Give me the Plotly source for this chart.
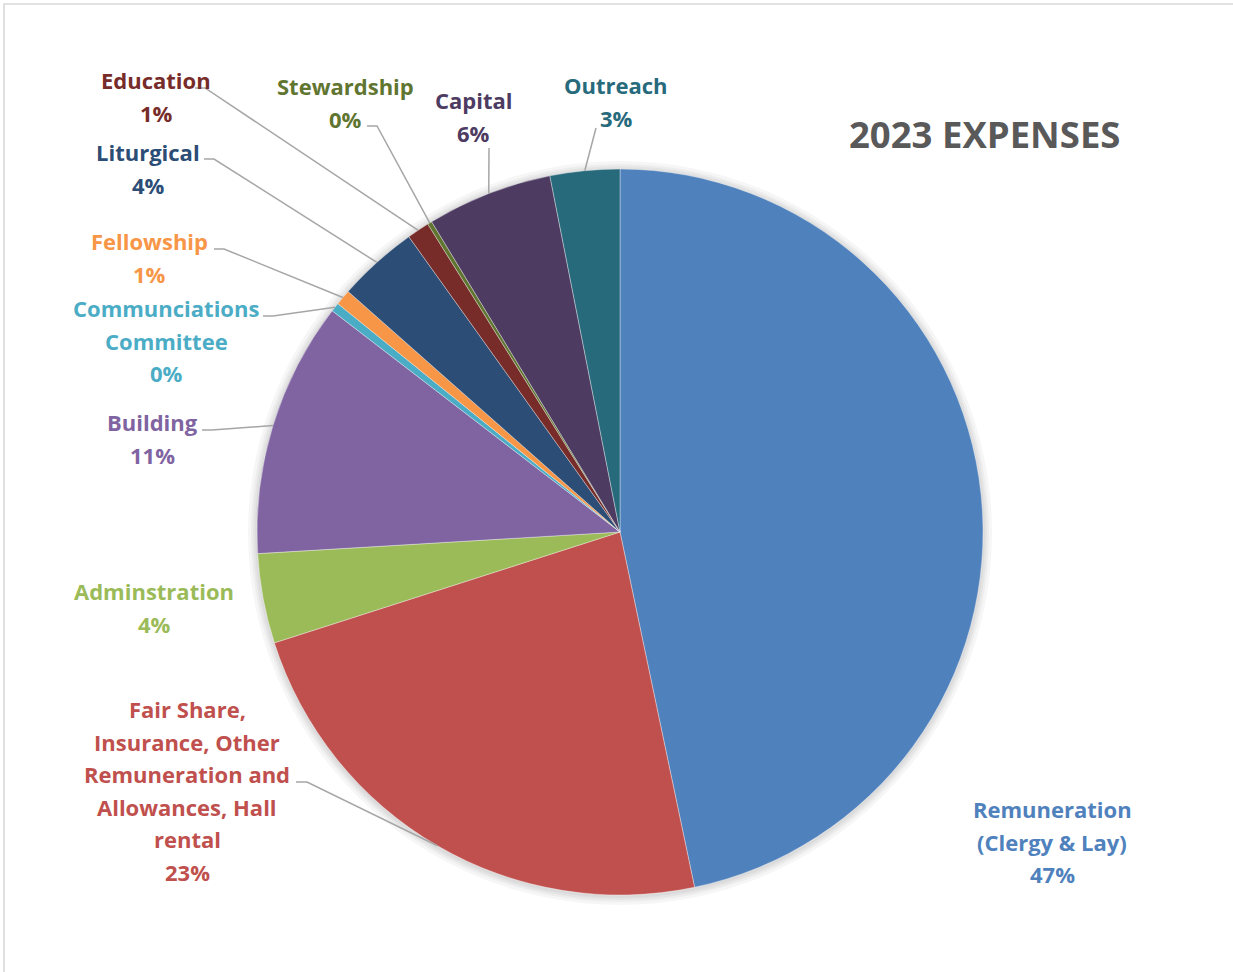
import math
import plotly.graph_objects as go

# ---- data -------------------------------------------------------------
categories = [
    "Remuneration (Clergy & Lay)",
    "Fair Share, Insurance, Other Remuneration and Allowances, Hall rental",
    "Adminstration",
    "Building",
    "Communciations Committee",
    "Fellowship",
    "Liturgical",
    "Education",
    "Stewardship",
    "Capital",
    "Outreach",
]
values = [46.8, 23.4, 4.0, 11.4, 0.4, 0.7, 3.6, 1.0, 0.2, 5.6, 3.1]
colors = [
    "#4F81BD", "#C0504D", "#9BBB59", "#8064A2", "#4BACC6", "#F79646",
    "#2C4D75", "#772C2A", "#5F7530", "#4D3B62", "#276A7C",
]
# how each category name wraps when printed beside the pie
label_lines = [
    ["Remuneration", "(Clergy & Lay)"],
    ["Fair Share,", "Insurance, Other", "Remuneration and", "Allowances, Hall", "rental"],
    ["Adminstration"],
    ["Building"],
    ["Communciations", "Committee"],
    ["Fellowship"],
    ["Liturgical"],
    ["Education"],
    ["Stewardship"],
    ["Capital"],
    ["Outreach"],
]
title_text = "2023 EXPENSES"

# ---- page geometry (pixels) ------------------------------------------
W, H = 1233, 972
CX, CY, R = 620, 532, 363
LINE_GAP = 32.6
FONT = "Open Sans"

def fx(x):
    return x / W

def fy(y):
    return 1 - y / H

# label block placement: centre x, first-line y, leader elbow points
label_pos = [
    (1052, 809, None),
    (187, 709, [(296, 782), (307, 782)]),
    (154, 591, None),
    (152, 422, [(202, 430), (212, 430)]),
    (166, 308, [(263, 316), (273, 316)]),
    (149, 241, [(214, 249), (224, 249)]),
    (148, 152, [(204, 159), (214, 159)]),
    (156, 80, [(195, 88), (205, 88)]),
    (345, 86, [(367, 126), (377, 126)]),
    (474, 100, [(489, 148)]),
    (616, 85, [(596, 128)]),
]

total = sum(values)
percents = [f"{round(v / total * 100)}%" for v in values]

fig = go.Figure()
fig.add_trace(go.Pie(
    labels=categories,
    values=values,
    sort=False,
    direction="clockwise",
    rotation=0,
    marker=dict(colors=colors, line=dict(color="rgba(255,255,255,0.6)", width=0.6)),
    textinfo="none",
    hoverinfo="label+percent",
    showlegend=False,
    domain=dict(x=[fx(CX - R), fx(CX + R)], y=[fy(CY + R), fy(CY - R)]),
))

shapes = []
# outer chart frame
shapes.append(dict(type="rect", xref="paper", yref="paper",
                   x0=fx(4), x1=fx(W + 10), y0=fy(H + 10), y1=fy(4),
                   line=dict(color="#D9D9D9", width=1.6), layer="below"))
# soft shadow around the pie
for extra in [9, 6, 4, 2]:
    r = R + extra
    shapes.append(dict(type="circle", xref="paper", yref="paper",
                       x0=fx(CX - r), x1=fx(CX + r),
                       y0=fy(CY + r + 1), y1=fy(CY - r + 1),
                       line=dict(width=0), fillcolor="rgba(0,0,0,0.035)",
                       layer="below"))

annotations = []
cum = 0.0
for name_lines, pct, col, (lx, ly, elbow), v in zip(
        label_lines, percents, colors, label_pos, values):
    mid = (cum + v / 2) / total * 2 * math.pi
    cum += v
    # leader line from the label to the slice's outer edge
    if elbow:
        ex = CX + R * math.sin(mid)
        ey = CY - R * math.cos(mid)
        pts = elbow + [(ex, ey)]
        path = "M " + " L ".join(f"{fx(px):.5f},{fy(py):.5f}" for px, py in pts)
        shapes.append(dict(type="path", xref="paper", yref="paper", path=path,
                           line=dict(color="#A6A6A6", width=1.5)))
    for k, line in enumerate(name_lines + [pct]):
        annotations.append(dict(
            x=fx(lx), y=fy(ly + k * LINE_GAP), xref="paper", yref="paper",
            text=line, showarrow=False, xanchor="center", yanchor="middle",
            font=dict(family=FONT, size=22, color=col, weight="bold"),
        ))

annotations.append(dict(
    x=fx(985), y=fy(134), xref="paper", yref="paper", text=title_text,
    showarrow=False, xanchor="center", yanchor="middle",
    font=dict(family=FONT, size=36.5, color="#595959", weight="bold"),
))

fig.update_layout(
    width=W, height=H,
    margin=dict(l=0, r=0, t=0, b=0),
    paper_bgcolor="white",
    plot_bgcolor="white",
    shapes=shapes,
    annotations=annotations,
)

fig.write_html("out.html")
